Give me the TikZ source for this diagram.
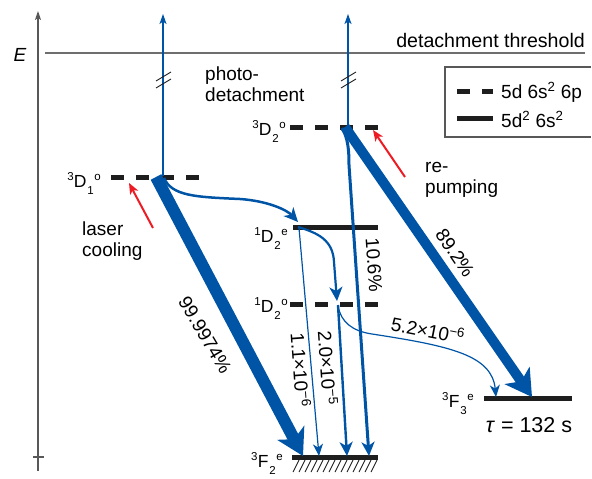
\documentclass[tikz,border=0pt]{standalone}
\usepackage{fontspec}
\setmainfont{Liberation Sans}
\usetikzlibrary{arrows.meta}
\definecolor{tblue}{RGB}{0,84,166}
\definecolor{tred}{RGB}{237,28,36}
\definecolor{lvl}{RGB}{30,30,30}
\definecolor{thr}{RGB}{110,110,110}
\newcommand\scr{\fontsize{11.5}{12}\selectfont}
\newcommand\termlab[4]{{\scr\raisebox{7pt}{#1}}\kern0.3pt#2\kern0.8pt{\scr\rlap{\raisebox{-7.5pt}{#3}}\kern7pt\raisebox{6.5pt}{#4}}}
\begin{document}
\begin{tikzpicture}[x=1pt,y=-1pt,
  font=\fontsize{19}{22}\selectfont,
  txt/.style={inner sep=0pt},
  termtxt/.style={inner sep=0pt, anchor=base east, font=\fontsize{17.5}{20}\selectfont},
  solidlvl/.style={line width=5pt, draw=lvl},
  dashlvl/.style={line width=5pt, draw=lvl, dash pattern=on 13pt off 12pt},
  axisline/.style={draw=thr!80!black, line width=1.1pt},
  bigarr/.style={draw=tblue, line width=#1, -{Stealth[length=26pt, width=30pt, inset=7pt]}},
  midarr/.style={draw=tblue, line width=#1, -{Stealth[length=14pt, width=13pt, inset=4pt]}},
  thinarr/.style={draw=tblue, line width=1.2pt, -{Stealth[length=12pt, width=10pt, inset=3.5pt]}},
  photoarr/.style={draw=tblue, line width=1.2pt, -{Stealth[length=10pt, width=7pt, inset=2.5pt]}},
  redarr/.style={draw=tred, line width=2pt, -{Stealth[length=11pt, width=9pt, inset=3pt]}},
  breakmark/.style={draw=lvl, line width=0.9pt},
]
\useasboundingbox (0,0) rectangle (592,479);

% axis
\coordinate (axb) at (38,471);
\coordinate (axt) at (38,11);
\coordinate (tk1) at (33,457);
\coordinate (tk2) at (44,457);
\draw[axisline, -{Stealth[length=9pt, width=6pt, inset=2pt]}] (axb) -- (axt);
\draw[axisline] (tk1) -- (tk2);
\node[txt, anchor=base, font=\fontsize{19}{22}\selectfont\itshape] (Elab) at (20,61) {E};

% threshold
\coordinate (th1) at (45,53);
\coordinate (th2) at (585,53);
\draw[draw=thr, line width=1.8pt] (th1) -- (th2);
\node[txt, anchor=base east, font=\fontsize{19.6}{22}\selectfont] (thlab) at (585,47) {detachment threshold};

% legend
\coordinate (lg1) at (591,67);
\coordinate (lg2) at (445,137);
\coordinate (lg3) at (591,137);
\draw[draw=thr!80!black, line width=1.2pt] (lg1) -| (lg2) -- (lg3);
\coordinate (lgd1) at (457,91);
\coordinate (lgd2) at (493,91);
\coordinate (lgs1) at (457,118);
\coordinate (lgs2) at (493,118);
\draw[dashlvl] (lgd1) -- (lgd2);
\draw[solidlvl] (lgs1) -- (lgs2);
\node[txt, anchor=base west] (lgt1) at (501,98) {5d 6s\textsuperscript{2} 6p};
\node[txt, anchor=base west] (lgt2) at (501,127) {5d\textsuperscript{2} 6s\textsuperscript{2}};

% levels
\coordinate (D1a) at (111,177); \coordinate (D1b) at (200,177);
\coordinate (D2a) at (290,127); \coordinate (D2b) at (378,127);
\coordinate (E1a) at (293,227); \coordinate (E1b) at (378,227);
\coordinate (O1a) at (290,304); \coordinate (O1b) at (378,304);
\coordinate (F2a) at (292,457); \coordinate (F2b) at (378,457);
\coordinate (F3a) at (484,398); \coordinate (F3b) at (572,398);
\draw[dashlvl] (D1a) -- (D1b);
\draw[dashlvl] (D2a) -- (D2b);
\draw[solidlvl] (E1a) -- (E1b);
\draw[dashlvl] (O1a) -- (O1b);
\draw[solidlvl] (F2a) -- (F2b);
\draw[solidlvl] (F3a) -- (F3b);
\foreach \i in {0,...,13} {
  \draw[draw=lvl, line width=0.9pt] (293+6*\i,472) -- (299+6*\i,460);
}

\node[termtxt] (labD1) at (101,187) {\termlab{3}{D}{1}{o}};
\node[termtxt] (labD2) at (286,135) {\termlab{3}{D}{2}{o}};
\node[termtxt] (labE1) at (288,242) {\termlab{1}{D}{2}{e}};
\node[termtxt] (labO1) at (288,312) {\termlab{1}{D}{2}{o}};
\node[termtxt] (labF2) at (283,467) {\termlab{3}{F}{2}{e}};
\node[termtxt] (labF3) at (474,407) {\termlab{3}{F}{3}{e}};
\node[txt, anchor=base, font=\fontsize{21.5}{24}\selectfont] (tau) at (529,432) {\textit{τ} = 132 s};

% photodetachment
\coordinate (pl0) at (163,176); \coordinate (pl1) at (163,14);
\coordinate (pr0) at (348,126); \coordinate (pr1) at (348,14);
\draw[photoarr] (pl0) -- (pl1);
\draw[photoarr] (pr0) -- (pr1);
\coordinate (bl1) at (156,81); \coordinate (bl2) at (171,72);
\coordinate (bl3) at (156,88); \coordinate (bl4) at (171,79);
\coordinate (br1) at (341,81); \coordinate (br2) at (356,72);
\coordinate (br3) at (341,88); \coordinate (br4) at (356,79);
\draw[breakmark] (bl1) -- (bl2); \draw[breakmark] (bl3) -- (bl4);
\draw[breakmark] (br1) -- (br2); \draw[breakmark] (br3) -- (br4);
\node[txt, anchor=base west] (ph1) at (205,80) {photo-};
\node[txt, anchor=base west] (ph2) at (205,101) {detachment};

% decays
\coordinate (a1s) at (156,177); \coordinate (a1e) at (303,456);
\coordinate (a2s) at (345,127); \coordinate (a2e) at (532,397);
\draw[bigarr=12pt] (a1s) -- (a1e);
\draw[bigarr=10pt] (a2s) -- (a2e);

\coordinate (c1s) at (164,178); \coordinate (c1m) at (240,199); \coordinate (c1e) at (298,222);
\draw[midarr=2.5pt] (c1s) .. controls (172,196) and (195,197) .. (c1m) .. controls (268,201) and (287,210) .. (c1e);

\coordinate (c2s) at (298,227); \coordinate (c2m) at (334,262); \coordinate (c2e) at (337,301);
\draw[midarr=2.2pt] (c2s) .. controls (318,233) and (333,240) .. (c2m) -- (c2e);

\coordinate (c3s) at (299,228); \coordinate (c3e) at (319,456);
\draw[thinarr] (c3s) -- (c3e);

\coordinate (c4s) at (338,305); \coordinate (c4e) at (347,456);
\draw[midarr=2.4pt] (c4s) -- (c4e);

\coordinate (c5s) at (342,128); \coordinate (c5m) at (349,165); \coordinate (c5e) at (369,456);
\draw[midarr=3pt] (c5s) .. controls (348,138) and (349,150) .. (c5m) -- (c5e);

\coordinate (c6s) at (338,306); \coordinate (c6m) at (372,334); \coordinate (c6e) at (496,397);
\draw[thinarr] (c6s) .. controls (341,322) and (352,331) .. (c6m) .. controls (450,346) and (492,355) .. (c6e);

% decay labels
\node[txt, rotate=-59.5] (p1) at (205,335) {99.9974\%};
\node[txt, rotate=-56] (p2) at (455,253) {89.2\%};
\node[txt, rotate=-86] (p3) at (374,265) {10.6\%};
\node[txt, rotate=-86] (p4) at (301,370) {1.1×10\textsuperscript{−6}};
\node[txt, rotate=-86] (p5) at (328,368) {2.0×10\textsuperscript{−5}};
\node[txt, rotate=-11] (p6) at (428,330) {5.2×10\textsuperscript{−6}};

% lasers
\coordinate (r1s) at (153,228); \coordinate (r1e) at (129,183);
\coordinate (r2s) at (405,177); \coordinate (r2e) at (373,130);
\draw[redarr] (r1s) -- (r1e);
\draw[redarr] (r2s) -- (r2e);
\node[txt, anchor=base west] (lc1) at (82,235) {laser};
\node[txt, anchor=base west] (lc2) at (82,256) {cooling};
\node[txt, anchor=base west] (rp1) at (425,172) {re-};
\node[txt, anchor=base west] (rp2) at (425,193) {pumping};
\end{tikzpicture}
\end{document}
